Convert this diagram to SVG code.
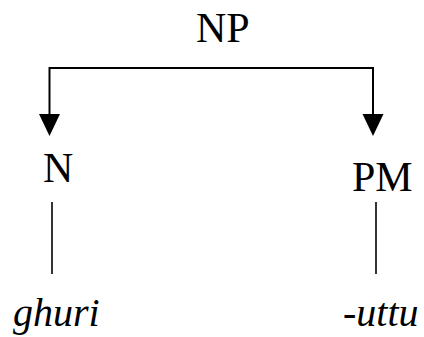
<svg xmlns="http://www.w3.org/2000/svg" width="424" height="337" viewBox="0 0 424 337">
<style>
.lbl{font-family:"Liberation Serif","Times New Roman",serif;font-size:42px;fill:#000}
.word{font-family:"Liberation Serif","Times New Roman",serif;font-size:40px;font-style:italic;fill:#000}
.edge{stroke:#000;stroke-width:2;fill:none}
.stem{stroke:#000;stroke-width:1.6;fill:none}
</style>
<defs>
<marker id="arr" markerUnits="userSpaceOnUse" markerWidth="22" markerHeight="22" viewBox="0 0 22 22" refX="11" refY="22" orient="auto-start-reverse">
<path d="M0,0 L22,0 L11,22 Z" fill="#000" transform="rotate(0)"/>
</marker>
</defs>
<rect width="424" height="337" fill="#fff"/>
<g id="connectors">
<path class="edge" d="M49.5,68 L373,68"/>
<path class="edge" d="M49.5,67 L49.5,115"/>
<path class="edge" d="M373,67 L373,115"/>
<polygon points="39,114 60,114 49.5,136" fill="#000"/>
<polygon points="362.5,114 383.5,114 373,136" fill="#000"/>
<path class="stem" d="M52,202 L52,274"/>
<path class="stem" d="M376,202 L376,274"/>
</g>
<g id="node-NP"><text class="lbl" x="196" y="42">NP</text></g>
<g id="node-N"><text class="lbl" x="43" y="182">N</text></g>
<g id="node-PM"><text class="lbl" x="352" y="191">PM</text></g>
<g id="node-ghuri"><text class="word" x="13" y="326">ghuri</text></g>
<g id="node-uttu"><text class="word" x="343" y="326">-uttu</text></g>
</svg>
